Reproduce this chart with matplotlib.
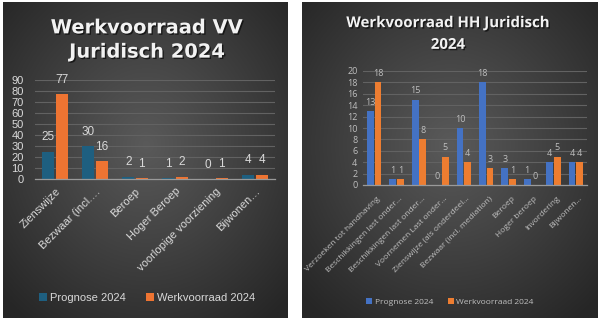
import matplotlib
matplotlib.use('Agg')
import matplotlib.pyplot as plt
import matplotlib.patheffects as pe
import matplotlib.transforms as mtransforms
import numpy as np

# Data: left chart (VV)
vv_categories = ['Zienswijze', 'Bezwaar (incl.…', 'Beroep', 'Hoger Beroep',
                 'voorlopige voorziening', 'Bijwonen…']
vv_prognose = [25, 30, 2, 1, 0, 4]
vv_werkvoorraad = [77, 16, 1, 2, 1, 4]

# Data: right chart (HH)
hh_categories = ['Verzoeken tot handhaving', 'Beschikkingen last onder…',
                 'Beschikkingen last onder…', 'Voornemen Last onder…',
                 'Zienswijze (als onderdeel…', 'Bezwaar (incl. mediation)',
                 'Beroep', 'Hoger beroep', 'Invordering', 'Bijwonen…']
hh_prognose = [13, 1, 15, 0, 10, 18, 3, 1, 4, 4]
hh_werkvoorraad = [18, 1, 8, 5, 4, 3, 1, 0, 5, 4]

W, H = 614, 322
fig = plt.figure(figsize=(W / 100, H / 100), dpi=100)
fig.patch.set_facecolor('white')


def px_axes(x0, y0, x1, y1, **kw):
    """Axes placed by pixel box (top-left origin)."""
    return fig.add_axes([x0 / W, 1 - y1 / H, (x1 - x0) / W, (y1 - y0) / H], **kw)


def panel_background(x0, y0, x1, y1):
    bg = px_axes(x0, y0, x1, y1)
    ny, nx = 200, 200
    yy, xx = np.mgrid[0:ny, 0:nx]
    cx, cy = nx * 0.5, ny * 0.45
    r = np.sqrt(((xx - cx) / nx) ** 2 + ((yy - cy) / ny) ** 2) / 0.7
    r = np.clip(r, 0, 1)
    inner, outer = np.array([0x5a, 0x5a, 0x5a]) / 255, np.array([0x26, 0x26, 0x26]) / 255
    img = inner[None, None, :] * (1 - r[..., None]) + outer[None, None, :] * r[..., None]
    bg.imshow(img, aspect='auto', extent=(0, 1, 0, 1))
    bg.set_xlim(0, 1)
    bg.set_ylim(0, 1)
    bg.axis('off')
    return bg


def style_axes(ax, ymax, step, tick_color, fs, family):
    ax.set_facecolor('none')
    ax.set_ylim(0, ymax)
    ax.set_yticks(np.arange(0, ymax + 1, step))
    ax.yaxis.grid(True, color='#626262', lw=0.8)
    ax.set_axisbelow(True)
    for s in ['top', 'right', 'left']:
        ax.spines[s].set_visible(False)
    ax.spines['bottom'].set_color('#9a9a9a')
    ax.spines['bottom'].set_linewidth(0.9)
    ax.tick_params(axis='both', length=0, colors=tick_color, labelsize=fs)
    for lab in ax.get_yticklabels():
        lab.set_family(family)


# ---------- Left chart ----------
panel_background(3, 2, 288, 318)
ax1 = px_axes(35, 80, 275, 179)
x = np.arange(len(vv_categories))
b1 = ax1.bar(x - 0.17, vv_prognose, 0.3, color='#1e5f80')
b2 = ax1.bar(x + 0.17, vv_werkvoorraad, 0.3, color='#ee7432')
ax1.set_xlim(-0.5, len(vv_categories) - 0.5)
style_axes(ax1, 90, 10, '#d9d9d9', 8, 'Liberation Sans')
ax1.set_xticks(x)
ax1.set_xticklabels(vv_categories, rotation=45, ha='right', rotation_mode='anchor',
                    family='Liberation Sans', fontsize=8, color='#d9d9d9')
ax1.tick_params(axis='x', pad=5)
ax1.tick_params(axis='y', pad=8)
for bars in (b1, b2):
    ax1.bar_label(bars, padding=6, color='#d9d9d9', fontsize=8.5, family='Liberation Sans')

fig.text(147 / W, 1 - 40 / H, 'Werkvoorraad VV\nJuridisch 2024', ha='center', va='center',
         fontsize=14, fontweight='bold', color='#f2f2f2', linespacing=1.35,
         path_effects=[pe.withSimplePatchShadow(offset=(1, -1), shadow_rgbFace='black', alpha=0.6)])

fig.legend(handles=[b1, b2], labels=['Prognose 2024', 'Werkvoorraad 2024'],
           loc='center', bbox_to_anchor=(147 / W, 1 - 298 / H), ncol=2, frameon=False,
           prop={'family': 'Liberation Sans', 'size': 8}, handlelength=0.7,
           handleheight=0.7, handletextpad=0.3, columnspacing=1.8, labelcolor='#d9d9d9')

# ---------- Right chart ----------
panel_background(302, 2, 598, 318)
ax2 = px_axes(363, 71, 587, 185)
x2 = np.arange(len(hh_categories))
c1 = ax2.bar(x2 - 0.17, hh_prognose, 0.3, color='#4472c4')
c2 = ax2.bar(x2 + 0.17, hh_werkvoorraad, 0.3, color='#ed7d31')
ax2.set_xlim(-0.5, len(hh_categories) - 0.5)
style_axes(ax2, 20, 2, '#bfbfbf', 6.5, 'Open Sans')
ax2.set_xticks(x2)
ax2.set_xticklabels(hh_categories, rotation=45, ha='right', va='center',
                    rotation_mode='anchor', family='Open Sans', fontsize=6.0, color='#bfbfbf')
ax2.tick_params(axis='x', pad=9)
ax2.tick_params(axis='y', pad=4)
shift = mtransforms.ScaledTranslation(5 / 100, 0, fig.dpi_scale_trans)
for lab in ax2.get_xticklabels():
    lab.set_transform(lab.get_transform() + shift)
for bars in (c1, c2):
    ax2.bar_label(bars, padding=3, color='#bfbfbf', fontsize=6.5, family='Open Sans')

fig.text(448 / W, 1 - 34 / H, 'Werkvoorraad HH Juridisch\n2024', ha='center', va='center',
         fontsize=10.8, fontweight='bold', color='#f2f2f2', family='Open Sans', linespacing=1.7,
         path_effects=[pe.withSimplePatchShadow(offset=(1, -1), shadow_rgbFace='black', alpha=0.6)])

fig.legend(handles=[c1, c2], labels=['Prognose 2024', 'Werkvoorraad 2024'],
           loc='center', bbox_to_anchor=(450 / W, 1 - 302 / H), ncol=2, frameon=False,
           prop={'family': 'Open Sans', 'size': 6}, handlelength=0.7,
           handleheight=0.7, handletextpad=0.3, columnspacing=1.8, labelcolor='#bfbfbf')

fig.savefig('out.png', dpi=100, facecolor='white')
